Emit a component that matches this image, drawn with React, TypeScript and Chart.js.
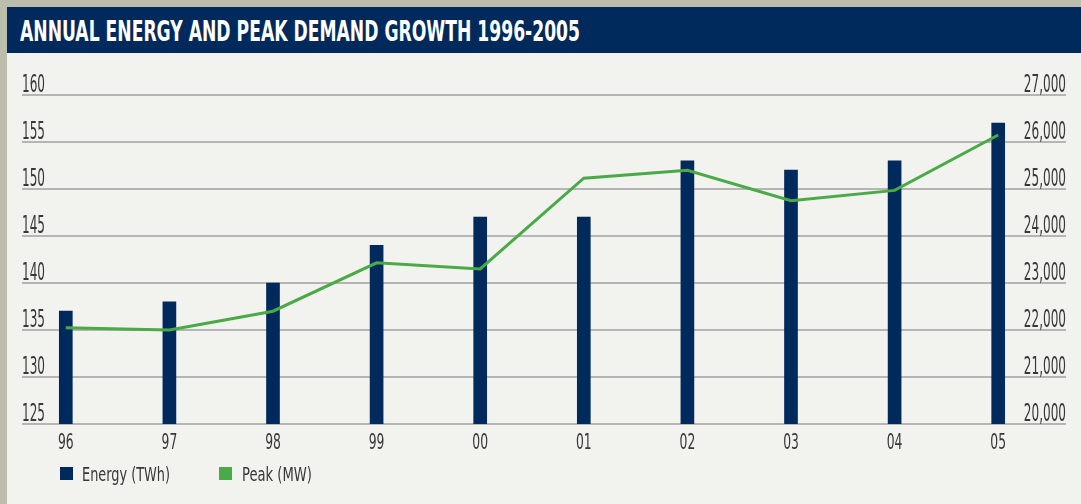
import React, { useEffect, useLayoutEffect, useRef } from "react";
import { Chart, registerables } from "chart.js";

Chart.register(...registerables);

const categories = ["96", "97", "98", "99", "00", "01", "02", "03", "04", "05"];
const energyTWh = [137, 138, 140, 144, 147, 147, 153, 152, 153, 157];
const peakMW = [22050, 22000, 22400, 23430, 23300, 25230, 25400, 24750, 24970, 26150];
const leftTicks = [125, 130, 135, 140, 145, 150, 155, 160];
const rightTicks = [20000, 21000, 22000, 23000, 24000, 25000, 26000, 27000];
const titleText = "ANNUAL ENERGY AND PEAK DEMAND GROWTH 1996-2005";
const legendLabels = ["Energy (TWh)", "Peak (MW)"];

const NAVY = "#002a5c";
const GREEN = "#4aaa47";
const TEXT = "#383838";
const FONT = "'Liberation Sans Narrow', 'DejaVu Sans Condensed', 'Roboto', sans-serif";

function drawCondensed(
  ctx: CanvasRenderingContext2D,
  text: string,
  x: number,
  y: number,
  k: number,
  align: CanvasTextAlign
) {
  ctx.save();
  ctx.translate(x, y);
  ctx.scale(k, 1);
  ctx.textAlign = align;
  ctx.textBaseline = "alphabetic";
  ctx.fillText(text, 0, 0);
  ctx.restore();
}

const axisPlugin = {
  id: "customAxes",
  beforeDatasetsDraw(chart: any) {
    const ctx: CanvasRenderingContext2D = chart.ctx;
    const y = chart.scales.y;
    const y1 = chart.scales.y1;
    const x = chart.scales.x;
    ctx.save();
    ctx.strokeStyle = "#b5b5b3";
    ctx.lineWidth = 2;
    leftTicks.forEach((v) => {
      const py = Math.round(y.getPixelForValue(v));
      ctx.beginPath();
      ctx.moveTo(22, py);
      ctx.lineTo(1066, py);
      ctx.stroke();
    });
    ctx.fillStyle = TEXT;
    ctx.font = `25px ${FONT}`;
    const kY = 23 / ctx.measureText("160").width;
    leftTicks.forEach((v) => {
      const py = y.getPixelForValue(v);
      drawCondensed(ctx, String(v), 22, py - 3, kY, "left");
    });
    rightTicks.forEach((v) => {
      const py = y1.getPixelForValue(v);
      drawCondensed(ctx, v.toLocaleString("en-US"), 1066, py - 3, kY, "right");
    });
    ctx.font = `21px ${FONT}`;
    const kX = 15.7 / ctx.measureText("96").width;
    categories.forEach((c, i) => {
      const px = x.getPixelForValue(i);
      drawCondensed(ctx, c, px, 448.5, kX, "center");
    });
    ctx.restore();
  },
};

function FitText({ text, width, style }: { text: string; width: number; style: React.CSSProperties }) {
  const ref = useRef<HTMLSpanElement>(null);
  useLayoutEffect(() => {
    const el = ref.current;
    if (!el) return;
    el.style.transform = "none";
    const w = el.getBoundingClientRect().width;
    if (w > 0) el.style.transform = `scaleX(${width / w})`;
  }, [text, width]);
  return (
    <span
      ref={ref}
      style={{ ...style, position: "absolute", whiteSpace: "nowrap", transformOrigin: "left top", display: "inline-block" }}
    >
      {text}
    </span>
  );
}

export default function App() {
  const canvasRef = useRef<HTMLCanvasElement>(null);

  useEffect(() => {
    const canvas = canvasRef.current;
    if (!canvas) return;
    const chart = new Chart(canvas, {
      type: "bar",
      data: {
        labels: categories,
        datasets: [
          {
            type: "line",
            label: legendLabels[1],
            data: peakMW,
            yAxisID: "y1",
            borderColor: GREEN,
            backgroundColor: GREEN,
            borderWidth: 3,
            pointRadius: 0,
            tension: 0,
            order: 0,
          } as any,
          {
            type: "bar",
            label: legendLabels[0],
            data: energyTWh,
            yAxisID: "y",
            backgroundColor: NAVY,
            barThickness: 13,
            order: 1,
          },
        ],
      },
      options: {
        responsive: false,
        animation: false,
        devicePixelRatio: 1,
        layout: { padding: { left: 14, right: 31, top: 95, bottom: 80 } },
        plugins: { legend: { display: false }, tooltip: { enabled: false } },
        scales: {
          x: { display: false, offset: true },
          y: { display: false, min: 125, max: 160 },
          y1: { display: false, min: 20000, max: 27000, position: "right" },
        },
      },
      plugins: [axisPlugin],
    });
    return () => chart.destroy();
  }, []);

  return (
    <div
      style={{
        position: "fixed",
        left: 0,
        top: 0,
        width: 1081,
        height: 504,
        overflow: "hidden",
        background: "#bcbdad",
        fontFamily: FONT,
      }}
    >
      <div style={{ position: "absolute", left: 7, top: 7, right: 0, bottom: 0, background: "#f2f2ee" }} />
      <div style={{ position: "absolute", left: 7, top: 7, right: 0, height: 46, background: NAVY }} />
      <FitText
        text={titleText}
        width={560}
        style={{ left: 20, top: 16, color: "#ffffff", fontWeight: "bold", fontSize: 28, lineHeight: "32px" }}
      />
      <canvas ref={canvasRef} width={1081} height={504} style={{ position: "absolute", left: 0, top: 0 }} />
      <div style={{ position: "absolute", left: 60, top: 467, width: 13, height: 13, background: NAVY }} />
      <FitText
        text={legendLabels[0]}
        width={88}
        style={{ left: 82, top: 463, color: TEXT, fontSize: 19, lineHeight: "22px" }}
      />
      <div style={{ position: "absolute", left: 219, top: 467, width: 13, height: 13, background: GREEN }} />
      <FitText
        text={legendLabels[1]}
        width={70}
        style={{ left: 242, top: 463, color: TEXT, fontSize: 19, lineHeight: "22px" }}
      />
    </div>
  );
}
